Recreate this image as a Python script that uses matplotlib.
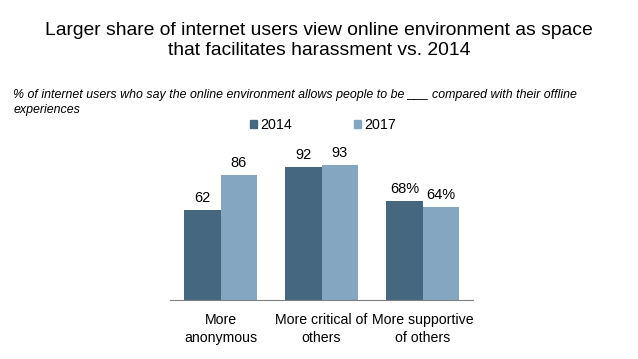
import matplotlib
matplotlib.use("Agg")
import matplotlib.pyplot as plt
import numpy as np
from matplotlib.patches import Patch

plt.rcParams['font.family'] = ['Liberation Sans', 'DejaVu Sans']

categories = ["More\nanonymous", "More critical of\nothers", "More supportive\nof others"]
series_names = ["2014", "2017"]
values_2014 = [62, 92, 68]
values_2017 = [86, 93, 64]
labels_2014 = ["62", "92", "68%"]
labels_2017 = ["86", "93", "64%"]
colors = ["#45677f", "#84a6c1"]

fig = plt.figure(figsize=(6.38, 3.59), dpi=100)
ax = fig.add_axes([0.2665, 0.1643, 0.475, 0.404])

x = np.arange(len(categories))
w = 0.36
b1 = ax.bar(x - w/2, values_2014, w, color=colors[0])
b2 = ax.bar(x + w/2, values_2017, w, color=colors[1])
for bars, labs in ((b1, labels_2014), (b2, labels_2017)):
    for rect, lab in zip(bars, labs):
        ax.text(rect.get_x() + rect.get_width()/2, rect.get_height() + 3.5, lab,
                ha='center', va='bottom', fontsize=10.5, clip_on=False)

ax.set_xlim(-0.5, 2.5)
ax.set_ylim(0, 100)
ax.set_xticks(x)
ax.set_xticklabels(categories, fontsize=10.2, linespacing=1.4)
ax.tick_params(axis='x', length=0, pad=9)
ax.set_yticks([])
for s in ['top', 'right', 'left']:
    ax.spines[s].set_visible(False)
ax.spines['bottom'].set_color('#808080')
ax.spines['bottom'].set_linewidth(0.8)

fig.text(0.5, 0.886, "Larger share of internet users view online environment as space\nthat facilitates harassment vs. 2014",
         ha='center', va='center', fontsize=13.9, linespacing=1.22)
fig.text(0.021, 0.714, "% of internet users who say the online environment allows people to be ___ compared with their offline\nexperiences",
         ha='left', va='center', fontsize=8.9, style='italic', linespacing=1.32)

handles = [Patch(color=colors[0]), Patch(color=colors[1])]
fig.legend(handles, series_names, loc='center', bbox_to_anchor=(0.506, 0.652), ncol=2,
           frameon=False, fontsize=10.3, handlelength=0.5, handleheight=0.5,
           handletextpad=0.25, columnspacing=4.3, borderpad=0, borderaxespad=0)

fig.savefig("out.png", dpi=100)
